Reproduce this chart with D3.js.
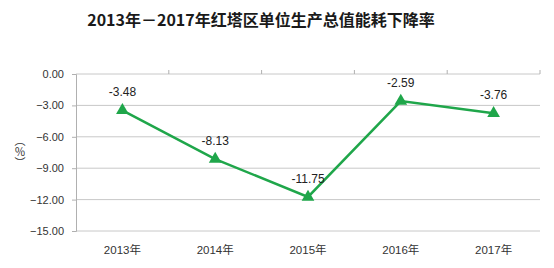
<!DOCTYPE html>
<html>
<head>
<meta charset="utf-8">
<script src="https://cdn.jsdelivr.net/npm/d3@7"></script>
<style>
  body { margin: 0; background: #fff; }
  svg { display: block; }
</style>
</head>
<body>
<div id="chart"></div>
<script>
// data
const years = ['2013年', '2014年', '2015年', '2016年', '2017年'];
const rates = [-3.48, -8.13, -11.75, -2.59, -3.76];
const yTicks = [0, -3, -6, -9, -12, -15];

const w = 554;
const h = 268;
const plotLeft = 76, plotRight = 540, plotTop = 74, plotBottom = 231;

const svg = d3.select('#chart').append('svg')
  .attr('width', w)
  .attr('height', h);

// title
svg.append('text')
  .attr('x', 261)
  .attr('y', 26)
  .attr('text-anchor', 'middle')
  .style('font-family', '"Noto Sans CJK SC", sans-serif')
  .style('font-weight', 'bold')
  .style('font-size', '16px')
  .style('fill', '#1a1a1a')
  .text('2013年－2017年红塔区单位生产总值能耗下降率');

const xScale = d3.scaleBand()
  .domain(years)
  .range([plotLeft, plotRight]);

const yScale = d3.scaleLinear()
  .domain([-15, 0])
  .range([plotBottom, plotTop]);

// gridlines
svg.append('g')
  .selectAll('line')
  .data(yTicks)
  .join('line')
  .attr('x1', plotLeft)
  .attr('x2', plotRight)
  .attr('y1', d => yScale(d))
  .attr('y2', d => yScale(d))
  .attr('stroke', '#c8c8c8')
  .attr('stroke-width', 1);

// y axis
const yAxisGen = d3.axisLeft(yScale)
  .tickValues(yTicks)
  .tickSize(4)
  .tickPadding(8)
  .tickFormat(d3.format('.2f'));

const yAxis = svg.append('g')
  .attr('transform', 'translate(' + plotLeft + ',0)')
  .call(yAxisGen);
yAxis.select('.domain').attr('stroke', '#b0b0b0');
yAxis.selectAll('.tick line').attr('stroke', '#b0b0b0');
yAxis.selectAll('.tick text')
  .style('font-family', '"Liberation Sans", Arial, sans-serif')
  .style('font-size', '11px')
  .style('fill', '#333');

// category tick marks along the zero line (axis crosses at 0)
svg.append('g')
  .selectAll('line')
  .data(years)
  .join('line')
  .attr('x1', (d, i) => plotLeft + xScale.step() * (i + 1))
  .attr('x2', (d, i) => plotLeft + xScale.step() * (i + 1))
  .attr('y1', yScale(0) - 4)
  .attr('y2', yScale(0))
  .attr('stroke', '#b0b0b0');

// category labels
svg.append('g')
  .selectAll('text')
  .data(years)
  .join('text')
  .attr('x', d => xScale(d) + xScale.bandwidth() / 2)
  .attr('y', 254)
  .attr('text-anchor', 'middle')
  .style('font-family', '"Liberation Sans", "Noto Sans CJK SC", sans-serif')
  .style('font-size', '11.5px')
  .style('fill', '#333')
  .text(d => d);

// axis title, vertical writing
svg.append('text')
  .attr('x', 20)
  .attr('y', 152)
  .attr('text-anchor', 'middle')
  .style('writing-mode', 'vertical-rl')
  .style('font-family', '"Noto Sans CJK SC", sans-serif')
  .style('font-size', '11px')
  .style('fill', '#333')
  .text('（％）');

// line
const line = d3.line()
  .x((d, i) => xScale(years[i]) + xScale.bandwidth() / 2)
  .y(d => yScale(d));

svg.append('path')
  .attr('d', line(rates))
  .attr('fill', 'none')
  .attr('stroke', '#1fa64a')
  .attr('stroke-width', 2.5);

// triangle markers
svg.append('g')
  .selectAll('path')
  .data(rates)
  .join('path')
  .attr('transform', (d, i) => 'translate(' + (xScale(years[i]) + xScale.bandwidth() / 2) + ',' + yScale(d) + ')')
  .attr('d', d3.symbol().type(d3.symbolTriangle).size(70))
  .attr('fill', '#1fa64a');

// value labels
svg.append('g')
  .selectAll('text')
  .data(rates)
  .join('text')
  .attr('x', (d, i) => xScale(years[i]) + xScale.bandwidth() / 2)
  .attr('y', d => yScale(d) - 14)
  .attr('text-anchor', 'middle')
  .style('font-family', '"Liberation Sans", Arial, sans-serif')
  .style('font-size', '12px')
  .style('fill', '#222')
  .text(d => d.toFixed(2));
</script>
</body>
</html>
